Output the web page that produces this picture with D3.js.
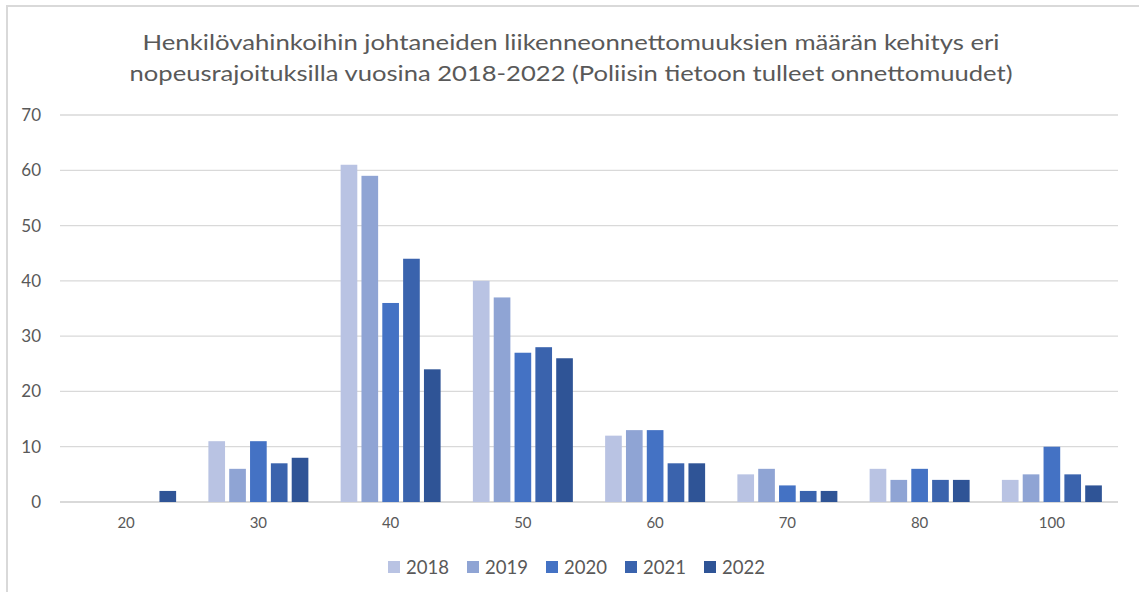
<!DOCTYPE html>
<html>
<head>
<meta charset="utf-8">
<script src="https://cdn.jsdelivr.net/npm/d3@7"></script>
<style>
  body { margin: 0; background: #fff; }
  text { font-family: Lato, "Open Sans", sans-serif; fill: #595959; }
</style>
</head>
<body>
<div id="chart"></div>
<script>
// data
const categories = ["20", "30", "40", "50", "60", "70", "80", "100"];
const years = ["2018", "2019", "2020", "2021", "2022"];
const v2018 = [0, 11, 61, 40, 12, 5, 6, 4];
const v2019 = [0, 6, 59, 37, 13, 6, 4, 5];
const v2020 = [0, 11, 36, 27, 13, 3, 6, 10];
const v2021 = [0, 7, 44, 28, 7, 2, 4, 5];
const v2022 = [2, 8, 24, 26, 7, 2, 4, 3];
const yTicks = [0, 10, 20, 30, 40, 50, 60, 70];
const titleLines = [
  "Henkilövahinkoihin johtaneiden liikenneonnettomuuksien  määrän kehitys eri",
  "nopeusrajoituksilla vuosina 2018-2022 (Poliisin tietoon tulleet onnettomuudet)"
];

const series = [v2018, v2019, v2020, v2021, v2022];
const data = categories.map((c, i) => {
  const row = { cat: c };
  years.forEach((y, j) => row[y] = series[j][i]);
  return row;
});

const width = 1139, height = 592;
const margin = { left: 60, right: 21, top: 115, bottom: 90 };

const svg = d3.select("#chart").append("svg")
  .attr("width", width)
  .attr("height", height);

// chart frame
svg.append("rect")
  .attr("x", 7).attr("y", 6)
  .attr("width", width + 20).attr("height", height + 20)
  .attr("fill", "none")
  .attr("stroke", "#d9d9d9")
  .attr("stroke-width", 2);

const x0 = d3.scaleBand()
  .domain(categories)
  .range([margin.left, width - margin.right])
  .paddingInner(0.244)
  .paddingOuter(0.122);

const x1 = d3.scaleBand()
  .domain(years)
  .range([0, x0.bandwidth()])
  .paddingInner(0.2);

const y = d3.scaleLinear()
  .domain([0, 70])
  .range([height - margin.bottom, margin.top]);

const color = d3.scaleOrdinal()
  .domain(years)
  .range(["#b9c3e3", "#8fa4d4", "#4472c4", "#3a63ad", "#2f5496"]);

// gridlines
svg.append("g")
  .selectAll("line")
  .data(yTicks)
  .join("line")
  .attr("x1", margin.left)
  .attr("x2", width - margin.right)
  .attr("y1", d => y(d))
  .attr("y2", d => y(d))
  .attr("stroke", "#d9d9d9")
  .attr("stroke-width", d => d === 0 ? 2 : 1.3);

// y labels
svg.append("g")
  .selectAll("text")
  .data(yTicks)
  .join("text")
  .attr("x", 41)
  .attr("y", d => y(d))
  .attr("dy", "0.35em")
  .attr("text-anchor", "end")
  .attr("font-size", "17px")
  .text(d => d);

// bars
svg.append("g")
  .selectAll("g")
  .data(data)
  .join("g")
  .attr("transform", d => `translate(${x0(d.cat)},0)`)
  .selectAll("rect")
  .data(d => years.map(k => ({ key: k, value: d[k] })))
  .join("rect")
  .attr("x", d => x1(d.key))
  .attr("y", d => y(d.value))
  .attr("width", x1.bandwidth())
  .attr("height", d => y(0) - y(d.value))
  .attr("fill", d => color(d.key));

// x labels
svg.append("g")
  .selectAll("text")
  .data(categories)
  .join("text")
  .attr("x", d => x0(d) + x0.bandwidth() / 2)
  .attr("y", 523)
  .attr("dy", "0.35em")
  .attr("text-anchor", "middle")
  .attr("font-size", "15px")
  .text(d => d);

// title
svg.append("g")
  .selectAll("text")
  .data(titleLines)
  .join("text")
  .attr("x", 571)
  .attr("y", (d, i) => 50 + i * 31)
  .attr("text-anchor", "middle")
  .attr("font-size", "21px")
  .attr("textLength", (d, i) => i === 0 ? 857 : 883)
  .attr("lengthAdjust", "spacingAndGlyphs")
  .text(d => d);

// legend
const legend = svg.append("g")
  .selectAll("g")
  .data(years)
  .join("g")
  .attr("transform", (d, i) => `translate(${388 + i * 79},567)`);

legend.append("rect")
  .attr("x", 0).attr("y", -6)
  .attr("width", 12).attr("height", 12)
  .attr("fill", d => color(d));

legend.append("text")
  .attr("x", 18)
  .attr("y", 0)
  .attr("dy", "0.36em")
  .attr("font-size", "19px")
  .attr("textLength", 43)
  .attr("lengthAdjust", "spacingAndGlyphs")
  .text(d => d);
</script>
</body>
</html>
